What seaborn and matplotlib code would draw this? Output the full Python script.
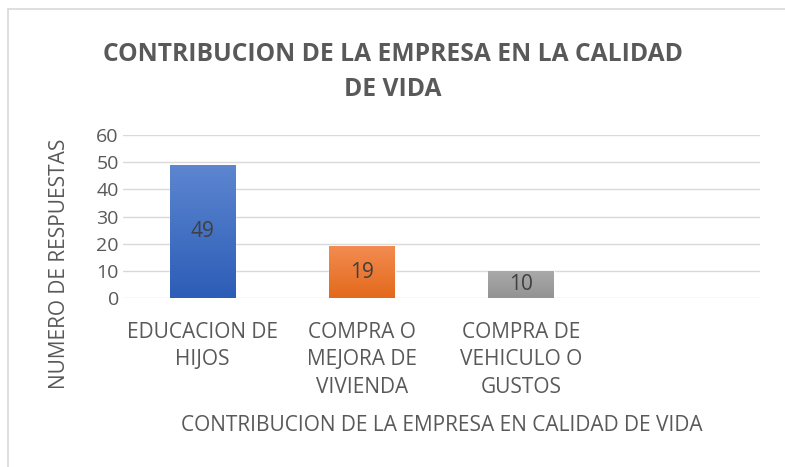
import numpy as np
import matplotlib
matplotlib.use("Agg")
import matplotlib.pyplot as plt
import matplotlib.colors as mcolors
import seaborn as sns
import pandas as pd

# datos
categorias = ["EDUCACION DE\nHIJOS", "COMPRA O\nMEJORA DE\nVIVIENDA", "COMPRA DE\nVEHICULO O\nGUSTOS"]
respuestas = [49, 19, 10]
ticks_y = [0, 10, 20, 30, 40, 50, 60]
titulo = "CONTRIBUCION DE LA EMPRESA EN LA CALIDAD\nDE VIDA"
etiqueta_x = "CONTRIBUCION DE LA EMPRESA EN CALIDAD DE VIDA"
etiqueta_y = "NUMERO DE RESPUESTAS"

# degradados (arriba, abajo) como en Excel
degradados = [("#5D86D0", "#2C5DB7"), ("#F28C50", "#E3691B"), ("#AAAAAA", "#939393")]

sns.set_theme(style="white")
plt.rcParams['font.family'] = ['Open Sans', 'DejaVu Sans']

df = pd.DataFrame({"categoria": categorias, "respuestas": respuestas})

fig = plt.figure(figsize=(7.85, 4.67), dpi=100)
ax = fig.add_axes([123 / 785, 1 - 298 / 467, (760 - 123) / 785, (298 - 135) / 467])

sns.barplot(data=df, x="categoria", y="respuestas", hue="categoria",
            palette=[d[1] for d in degradados], width=0.41, legend=False, ax=ax,
            zorder=3)

ax.set_xlim(-0.5, 3.5)
ax.set_ylim(0, 60)
ax.set_yticks(ticks_y)

# rellenar cada barra con un degradado vertical
for barra, (arriba, abajo) in zip(ax.patches, degradados):
    x0, y0 = barra.get_x(), barra.get_y()
    w, h = barra.get_width(), barra.get_height()
    cmap = mcolors.LinearSegmentedColormap.from_list("g", [abajo, arriba])
    grad = np.linspace(0, 1, 100).reshape(-1, 1)
    img = ax.imshow(grad, extent=[x0, x0 + w, y0, y0 + h], origin="lower",
                    cmap=cmap, aspect="auto", zorder=4)
    img.set_clip_path(barra)
    ax.text(x0 + w / 2, y0 + h / 2, str(int(h)), ha="center", va="center",
            fontsize=15, color="#404040", zorder=5)

ax.set_xlim(-0.5, 3.5)
ax.set_ylim(0, 60)

ax.grid(axis="y", color="#D9D9D9", linewidth=1.0, zorder=0)
ax.set_axisbelow(True)
sns.despine(ax=ax, left=True, bottom=True)
ax.tick_params(axis="y", length=0, labelsize=14, colors="#595959", pad=3)
ax.tick_params(axis="x", length=0, labelsize=15, colors="#595959", pad=17)
for lab in ax.get_xticklabels():
    lab.set_linespacing(1.42)

ax.set_xlabel(etiqueta_x, fontsize=15, color="#595959", labelpad=12)
ax.set_ylabel(etiqueta_y, fontsize=15, color="#595959")
ax.yaxis.set_label_coords(-0.083, 0.208)

fig.text(0.5, 0.846, titulo, ha="center", va="center", fontsize=17.7,
         fontweight="bold", color="#595959", linespacing=1.55,
         family=['Liberation Sans Narrow', 'Open Sans', 'DejaVu Sans'])

# marco del grafico
fig.add_artist(plt.Line2D([8 / 785, 8 / 785], [0, 1 - 9 / 467], color="#D9D9D9", lw=1.2))
fig.add_artist(plt.Line2D([8 / 785, 1], [1 - 9 / 467, 1 - 9 / 467], color="#D9D9D9", lw=1.2))

fig.savefig("out.png", dpi=100)
